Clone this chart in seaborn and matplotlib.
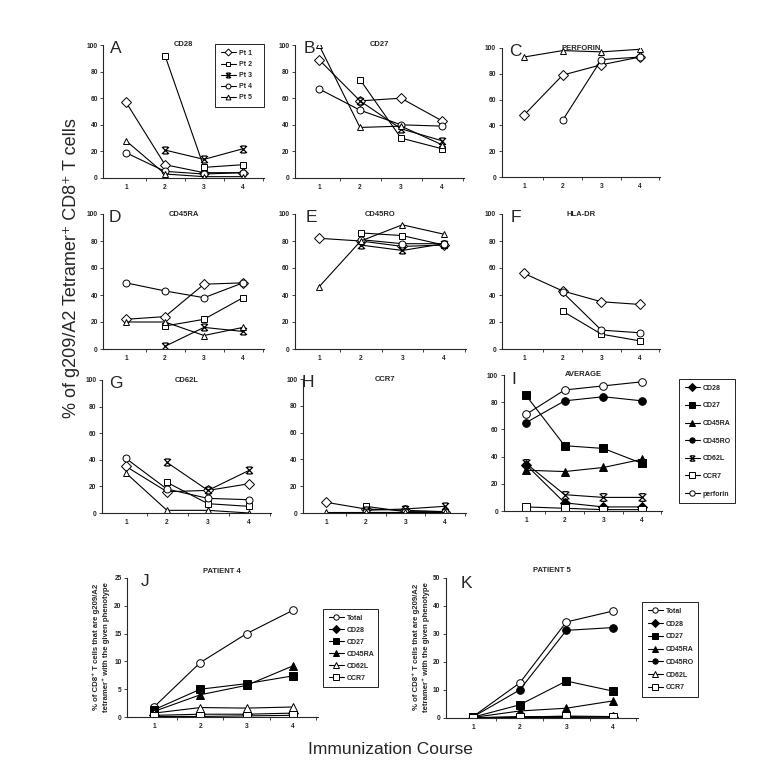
import numpy as np
import pandas as pd
import matplotlib
matplotlib.use("Agg")
import matplotlib.pyplot as plt
from matplotlib.path import Path
import seaborn as sns

nan = np.nan
courses = [1, 2, 3, 4]
patients = ["Pt 1", "Pt 2", "Pt 3", "Pt 4", "Pt 5"]

# Panels A-H: rows = Pt 1..Pt 5
cd28_vals = [[57, 10, 4, 4], [nan, 92, 8, 10], [nan, 21, 14, 22], [19, 5, 3, 4], [28, 3, 1, 1]]
cd27_vals = [[89, 58, 60, 43], [nan, 74, 30, 22], [nan, 58, 37, 28], [67, 51, 40, 39], [100, 38, 39, 25]]
perforin_vals = [[48, 79, 87, 93], [nan, nan, nan, nan], [nan, nan, nan, nan], [nan, 44, 91, 93], [93, 98, 97, 99]]
cd45ra_vals = [[22, 24, 48, 49], [nan, 17, 22, 38], [nan, 2, 16, 13], [49, 43, 38, 49], [20, 20, 10, 16]]
cd45ro_vals = [[82, 80, 76, 77], [nan, 86, 84, 77], [nan, 77, 73, 78], [nan, 81, 78, 78], [46, 80, 92, 85]]
hladr_vals = [[56, 43, 35, 33], [nan, 28, 11, 6], [nan, nan, nan, nan], [nan, 42, 14, 12], [nan, nan, nan, nan]]
cd62l_vals = [[35, 16, 17, 22], [nan, 23, 7, 5], [nan, 38, 17, 32], [41, 18, 11, 10], [30, 2, 2, 0]]
ccr7_vals = [[8, 3, 2, 1], [nan, 5, 1, 1], [nan, 2, 3, 5], [nan, 1, 1, 1], [1, 1, 1, 1]]

# Panel I: average
avg_labels = ["CD28", "CD27", "CD45RA", "CD45RO", "CD62L", "CCR7", "perforin"]
avg_cd28 = [34, 6, 3, 3]
avg_cd27 = [85, 48, 46, 35]
avg_cd45ra = [30, 29, 32, 38]
avg_cd45ro = [65, 81, 84, 81]
avg_cd62l = [35, 12, 10, 10]
avg_ccr7 = [3, 2, 1, 1]
avg_perforin = [71, 89, 92, 95]

# Panel J: patient 4
p4_labels = ["Total", "CD28", "CD27", "CD45RA", "CD62L", "CCR7"]
p4_total = [1.8, 9.8, 15.0, 19.2]
p4_cd28 = [0.3, 0.5, 0.5, 0.7]
p4_cd27 = [1.3, 5.0, 6.0, 7.4]
p4_cd45ra = [1.0, 4.0, 5.7, 9.2]
p4_cd62l = [0.7, 1.7, 1.6, 1.8]
p4_ccr7 = [0.1, 0.1, 0.2, 0.3]

# Panel K: patient 5
p5_labels = ["Total", "CD28", "CD27", "CD45RA", "CD45RO", "CD62L", "CCR7"]
p5_total = [0.5, 12.5, 34.3, 38.2]
p5_cd28 = [0.1, 0.5, 0.5, 0.3]
p5_cd27 = [0.3, 4.7, 13.2, 9.6]
p5_cd45ra = [0.2, 2.5, 3.5, 6.1]
p5_cd45ro = [0.4, 10.0, 31.3, 32.3]
p5_cd62l = [0.1, 0.2, 0.2, 0.0]
p5_ccr7 = [0.1, 0.3, 0.7, 0.5]

W, H = 771, 777
sns.set_style("ticks")
FAM = ["Liberation Sans", "DejaVu Sans"]
plt.rcParams["font.family"] = FAM

fig = plt.figure(figsize=(W / 100, H / 100), dpi=100)

# Excel-like "star" marker: an X with short horizontal caps
STAR = Path([(-1, -1), (1, 1), (-1, 1), (1, -1), (-0.7, 1), (0.7, 1), (-0.7, -1), (0.7, -1)],
            [Path.MOVETO, Path.LINETO] * 4)
pt_style = [("D", False), ("s", False), (STAR, False), ("o", False), ("^", False)]
XL, XR = 0.42, 4.53


def make_ax(t1, t4, top, bottom, ymax, ystep):
    u = (t4 - t1) / 3.0
    left = t1 - (1 - XL) * u
    right = t4 + (XR - 4) * u
    ax = fig.add_axes([left / W, 1 - bottom / H, (right - left) / W, (bottom - top) / H])
    ax.set_xlim(XL, XR)
    ax.set_ylim(0, ymax)
    ax.set_xticks(courses)
    ax.set_xticks([1.5, 2.5, 3.5, 4.5], minor=True)
    ax.set_yticks(np.arange(0, ymax + 0.1, ystep))
    ax.tick_params(axis="x", which="major", length=0, pad=4, labelsize=4.8)
    ax.tick_params(axis="x", which="minor", length=2, width=0.6, direction="out")
    ax.tick_params(axis="y", length=2, width=0.6, direction="out", pad=2, labelsize=4.8)
    for lab in ax.get_xticklabels() + ax.get_yticklabels():
        lab.set_fontweight("bold")
    sns.despine(ax=ax)
    for s in ("left", "bottom"):
        ax.spines[s].set_linewidth(0.8)
    ax.patch.set_alpha(0)
    return ax


def draw(ax, vals, label, marker, filled, ms=5):
    df = pd.DataFrame({"course": courses, "value": vals}).dropna()
    if df.empty:
        return
    is_star = marker is STAR
    sns.lineplot(data=df, x="course", y="value", ax=ax, color="black", linewidth=0.8,
                 marker=marker, markersize=ms,
                 markerfacecolor="black" if filled else "white",
                 markeredgecolor="black", markeredgewidth=0.9 if is_star else 0.7,
                 label=label, legend=False, errorbar=None, sort=False)
    ax.set_xlabel("")
    ax.set_ylabel("")


def title(ax, text, dy=0.0, dx=0.0):
    ax.text(0.5 + dx, 1.0 + dy, text, transform=ax.transAxes, ha="center", va="center",
            fontsize=5.5, fontweight="bold")


def letter(x, y, text):
    fig.text(x / W, 1 - y / H, text, fontsize=12.5, ha="left", va="baseline")


def legend(ax, handles, labels, x0, y0, x1, spacing):
    ax.legend(handles, labels, loc="upper left", mode="expand",
              bbox_to_anchor=(x0 / W, 1 - y0 / H, (x1 - x0) / W, 0.001),
              bbox_transform=fig.transFigure, frameon=True, fancybox=False,
              edgecolor="black", framealpha=1, prop={"size": 5, "weight": "bold"},
              handlelength=2.2, handletextpad=0.4, labelspacing=spacing,
              borderpad=0.8, markerscale=0.7, borderaxespad=0)
    ax.get_legend().get_frame().set_linewidth(0.6)


panels = [
    (126, 243, 45, 178, cd28_vals, "CD28", "A", 110, 53),
    (319, 442, 45, 178, cd27_vals, "CD27", "B", 304, 53),
    (524, 640, 48, 177, perforin_vals, "PERFORIN", "C", 509, 56),
    (126, 243, 214, 349, cd45ra_vals, "CD45RA", "D", 109, 222),
    (319, 444, 214, 349, cd45ro_vals, "CD45RO", "E", 306, 222),
    (524, 640, 214, 349, hladr_vals, "HLA-DR", "F", 511, 222),
    (126, 249, 380, 513, cd62l_vals, "CD62L", "G", 109, 388),
    (326, 445, 379, 513, ccr7_vals, "CCR7", "H", 302, 387),
]

for t1, t4, top, bot, vals, ttl, let, lx, ly in panels:
    ax = make_ax(t1, t4, top, bot, 100, 20)
    for (mk, fl), pt, v in zip(pt_style, patients, vals):
        draw(ax, v, pt, mk, fl)
    title(ax, ttl)
    letter(lx, ly, let)
    if let == "A":
        hs = [l for l in ax.get_lines()]
        legend(ax, hs, [h.get_label() for h in hs], 215, 45, 264, 0.6)

# Panel I
axI = make_ax(526, 642, 375, 511, 100, 20)
avg_series = [avg_cd28, avg_cd27, avg_cd45ra, avg_cd45ro, avg_cd62l, avg_ccr7, avg_perforin]
avg_style = [("D", True), ("s", True), ("^", True), ("o", True), (STAR, False), ("s", False), ("o", False)]
for (mk, fl), lb, v in zip(avg_style, avg_labels, avg_series):
    draw(axI, v, lb, mk, fl, ms=5.5)
title(axI, "AVERAGE")
letter(511, 384, "I")
hs = axI.get_lines()
legend(axI, hs, [h.get_label() for h in hs], 679, 380, 735, 1.53)

# Panel J
axJ = make_ax(154, 293, 578, 717, 25, 5)
p4_series = [p4_total, p4_cd28, p4_cd27, p4_cd45ra, p4_cd62l, p4_ccr7]
p4_style = [("o", False), ("D", True), ("s", True), ("^", True), ("^", False), ("s", False)]
for (mk, fl), lb, v in zip(p4_style, p4_labels, p4_series):
    draw(axJ, v, lb, mk, fl, ms=5.5)
title(axJ, "PATIENT 4", dy=0.05)
letter(141, 586, "J")
hs = axJ.get_lines()
legend(axJ, hs, [h.get_label() for h in hs], 323, 610, 378, 0.72)
fig.text(101 / W, 1 - 647 / H,
         "% of CD8\u207a T cells that are g209/A2\ntetramer\u207a with the given phenotype",
         rotation=90, ha="center", va="center", fontsize=5.6, fontweight="bold",
         linespacing=1.5, family=FAM)

# Panel K
axK = make_ax(473, 613, 578, 718, 50, 10)
p5_series = [p5_total, p5_cd28, p5_cd27, p5_cd45ra, p5_cd45ro, p5_cd62l, p5_ccr7]
p5_style = [("o", False), ("D", True), ("s", True), ("^", True), ("o", True), ("^", False), ("s", False)]
for (mk, fl), lb, v in zip(p5_style, p5_labels, p5_series):
    draw(axK, v, lb, mk, fl, ms=5.5)
title(axK, "PATIENT 5", dy=0.05, dx=0.05)
letter(461, 588, "K")
hs = axK.get_lines()
legend(axK, hs, [h.get_label() for h in hs], 642, 603, 698, 0.83)
fig.text(421 / W, 1 - 647 / H,
         "% of CD8\u207a T cells that are g209/A2\ntetramer\u207a with the given phenotype",
         rotation=90, ha="center", va="center", fontsize=5.6, fontweight="bold",
         linespacing=1.5, family=FAM)

# Shared labels
fig.text(72 / W, 1 - 268 / H, "% of g209/A2 Tetramer\u207a CD8\u207a T cells", rotation=90,
         ha="center", va="center", fontsize=13, family=FAM)
fig.text(390 / W, 1 - 750 / H, "Immunization Course", ha="center", va="center",
         fontsize=12.5, family=FAM)

fig.savefig("out.png", dpi=100)
